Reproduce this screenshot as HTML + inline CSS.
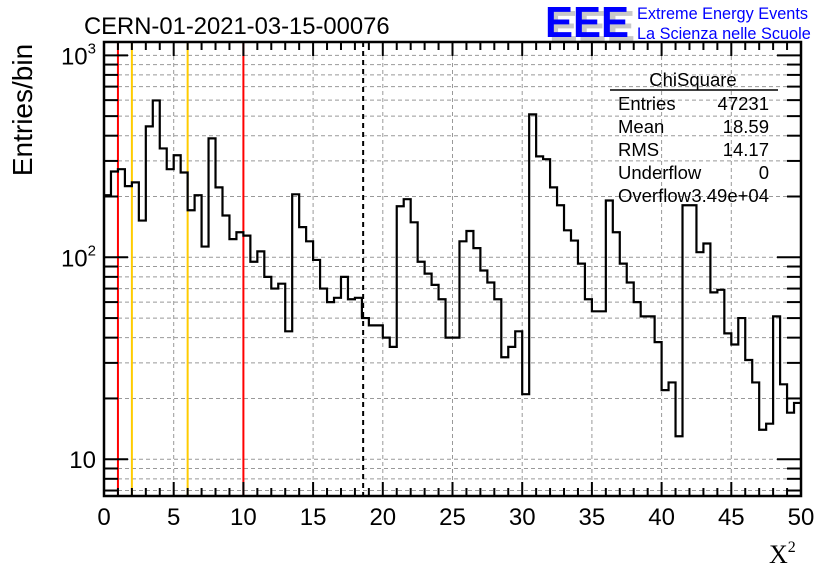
<!DOCTYPE html>
<html><head><meta charset="utf-8"><style>
body{margin:0;background:#fff;width:836px;height:572px;overflow:hidden}
svg{font-family:"Liberation Sans",sans-serif}
</style></head><body>
<svg id="c" width="836" height="572">
<text x="84" y="34" font-size="23.8">CERN-01-2021-03-15-00076</text>
<g>
<text x="549" y="41" font-size="44" font-weight="bold" fill="#c8c8c8" textLength="86" lengthAdjust="spacingAndGlyphs">EEE</text>
<text x="545" y="37" font-size="44" font-weight="bold" fill="#0000ff" textLength="84" lengthAdjust="spacingAndGlyphs">EEE</text>
<text x="637" y="19" font-size="16.3" fill="#0000ff">Extreme Energy Events</text>
<text x="637" y="39" font-size="16.3" fill="#0000ff">La Scienza nelle Scuole</text>
</g>
<g id="grid"></g>
<g id="marks"></g>
<g id="axes"></g>
<g font-size="18.5">
<text x="693" y="86" text-anchor="middle">ChiSquare</text>
<line x1="610" y1="90" x2="778" y2="90" stroke="#000" stroke-width="1.5"/>
<text x="618" y="110">Entries</text><text x="769" y="110" text-anchor="end">47231</text>
<text x="618" y="133">Mean</text><text x="769" y="133" text-anchor="end">18.59</text>
<text x="618" y="156">RMS</text><text x="769" y="156" text-anchor="end">14.17</text>
<text x="618" y="179">Underflow</text><text x="769" y="179" text-anchor="end">0</text>
<text x="618" y="202">Overflow</text><text x="769" y="202" text-anchor="end">3.49e+04</text>
</g>
<text transform="translate(32,110) rotate(-90)" font-size="28" text-anchor="middle">Entries/bin</text>
<text x="769" y="563" font-size="26" font-family="Liberation Serif,serif">X<tspan font-size="16" dy="-11">2</tspan></text>
</svg>
<script>
const counts=[203,266,273,225,235,152,445,598,346,273,320,263,171,203,113,388,222,161,123,133,128,95,107,80,70,74,43,205,141,120,97,70,60,63,80,62,63,50,46,46,40,36,179,194,149,95,83,73,62,40,40,120,135,111,86,75,62,32,36,43,21,510,316,306,222,181,136,121,93,62,54,54,191,133,93,75,60,51,51,38,22,24,13,181,181,106,117,67,69,42,37,50,31,24,14,15,51,23.5,17,19];
const binWidth=0.5;
const xTicks=[0,5,10,15,20,25,30,35,40,45,50];
const yTicks=[10,100,1000];
const cutLines=[{x:1,c:"#ff0000"},{x:2,c:"#ffcc00"},{x:6,c:"#ffcc00"},{x:10,c:"#ff0000"}];
const meanLine=18.59;
const L=104,R=801,T=42,B=496,xMin=0,xMax=50;
const yLogMin=0.818,yLogMax=3.066;
const NS="http://www.w3.org/2000/svg";
const X=v=>L+(v-xMin)/(xMax-xMin)*(R-L);
const Y=v=>B-(Math.log10(v)-yLogMin)/(yLogMax-yLogMin)*(B-T);
function el(tag,attrs,parent){const e=document.createElementNS(NS,tag);for(const k in attrs)e.setAttribute(k,attrs[k]);parent.appendChild(e);return e;}
const grid=document.getElementById('grid'),marks=document.getElementById('marks'),axes=document.getElementById('axes');
for(let d=0;d<=3;d++)for(let m=1;m<10;m++){const v=m*Math.pow(10,d);const y=Y(v);if(y<T+1||y>B-1)continue;
 const g=el('line',{x1:L,x2:R,y1:y,y2:y,stroke:'#999','stroke-dasharray':'4,3','stroke-width':1},grid);
 
 
 const t=el('line',{x1:L,x2:L+(m===1?24:14),y1:y,y2:y,stroke:'#000','stroke-width':2},axes);
 
 
 const t2=el('line',{x1:R,x2:R-(m===1?24:14),y1:y,y2:y,stroke:'#000','stroke-width':2},axes);
 
 }
xTicks.forEach(v=>{const x=X(v);
 if(v>xMin&&v<xMax){const g=el('line',{x1:x,x2:x,y1:T,y2:B,stroke:'#999','stroke-dasharray':'4,3','stroke-width':1},grid);
 
 }
 const t=el('text',{x:x,y:B+29,'font-size':24,'text-anchor':'middle'},axes);t.textContent=v;
 
 });
for(let v=xMin;v<=xMax;v+=1){const x=X(v);const len=v%5===0?14:8;
 el('line',{x1:x,x2:x,y1:B,y2:B-len,stroke:'#000','stroke-width':2},axes);
 el('line',{x1:x,x2:x,y1:T,y2:T+len,stroke:'#000','stroke-width':2},axes);}
yTicks.forEach((v,i)=>{const t=el('text',{x:L-8,y:Y(v)+9,'font-size':24,'text-anchor':'end'},axes);
 t.textContent='10';
 if(i>0){const s=el('tspan',{'font-size':15,dy:-11},t);s.textContent=String(i+1);}
 
 });
const f=el('rect',{x:L,y:T,width:R-L,height:B-T,fill:'none',stroke:'#000','stroke-width':2.5},axes);


cutLines.forEach(c=>{const l=el('line',{x1:X(c.x),x2:X(c.x),y1:T,y2:B,stroke:c.c,'stroke-width':2},marks);
 
 });
const ml=el('line',{x1:X(meanLine),x2:X(meanLine),y1:T,y2:B,stroke:'#000','stroke-width':2,'stroke-dasharray':'5,4'},marks);


let d='';counts.forEach((c,i)=>{const x0=X(i*binWidth),x1=X((i+1)*binWidth),y=Y(c);d+=(i===0?'M':'L')+x0+','+y+'L'+x1+','+y;});
const p=el('path',{d:d,fill:'none',stroke:'#000','stroke-width':2.2},marks);


</script>
</body></html>
